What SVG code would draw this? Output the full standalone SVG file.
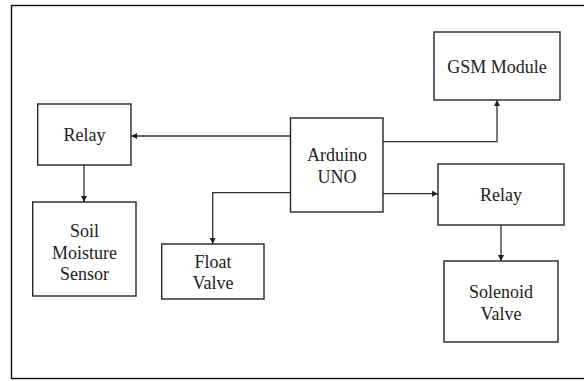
<svg xmlns="http://www.w3.org/2000/svg" width="584" height="381" viewBox="0 0 584 381">
<defs>
<style>
.box{fill:#fff;stroke:#262626;stroke-width:1.4}
.lbl{font-family:'Liberation Serif','DejaVu Serif',serif;font-size:18px;fill:#222;text-anchor:middle}
.con{fill:none;stroke:#333;stroke-width:1.3}
</style>
<marker id="ah" viewBox="0 0 10 10" refX="10" refY="5" markerWidth="7" markerHeight="6" markerUnits="userSpaceOnUse" orient="auto">
<path d="M0,0 L10,5 L0,10 z" fill="#222"/>
</marker>
</defs>
<rect x="0" y="0" width="584" height="381" fill="#fff"/>
<rect x="11.5" y="5.5" width="580" height="373" fill="none" stroke="#111" stroke-width="1.4"/>
<g id="connectors">
<path class="con" d="M290,136 H131" marker-end="url(#ah)"/>
<path class="con" d="M84,165 V202" marker-end="url(#ah)"/>
<path class="con" d="M290,192.7 H212.7 V244" marker-end="url(#ah)"/>
<path class="con" d="M383,141.7 H497 V100" marker-end="url(#ah)"/>
<path class="con" d="M383,193.7 H438" marker-end="url(#ah)"/>
<path class="con" d="M501,225 V261" marker-end="url(#ah)"/>
</g>
<g id="relay-left">
<rect class="box" x="37.7" y="104" width="93.3" height="61"/>
<text class="lbl" x="84.5" y="141">Relay</text>
</g>
<g id="soil-sensor">
<rect class="box" x="32.7" y="202" width="103.3" height="94"/>
<text class="lbl" x="84.5" y="237">Soil</text>
<text class="lbl" x="84.5" y="258.5">Moisture</text>
<text class="lbl" x="84.5" y="280">Sensor</text>
</g>
<g id="float-valve">
<rect class="box" x="161.7" y="244" width="102.3" height="55"/>
<text class="lbl" x="213" y="268">Float</text>
<text class="lbl" x="213" y="289">Valve</text>
</g>
<g id="arduino">
<rect class="box" x="290.5" y="118" width="92.5" height="94"/>
<text class="lbl" x="337" y="161">Arduino</text>
<text class="lbl" x="337" y="183">UNO</text>
</g>
<g id="gsm">
<rect class="box" x="434" y="32" width="126" height="68"/>
<text class="lbl" x="497" y="73">GSM Module</text>
</g>
<g id="relay-right">
<rect class="box" x="438" y="164" width="126" height="61"/>
<text class="lbl" x="501" y="201">Relay</text>
</g>
<g id="solenoid">
<rect class="box" x="444" y="261" width="114" height="81"/>
<text class="lbl" x="501" y="298">Solenoid</text>
<text class="lbl" x="501" y="320">Valve</text>
</g>
</svg>
